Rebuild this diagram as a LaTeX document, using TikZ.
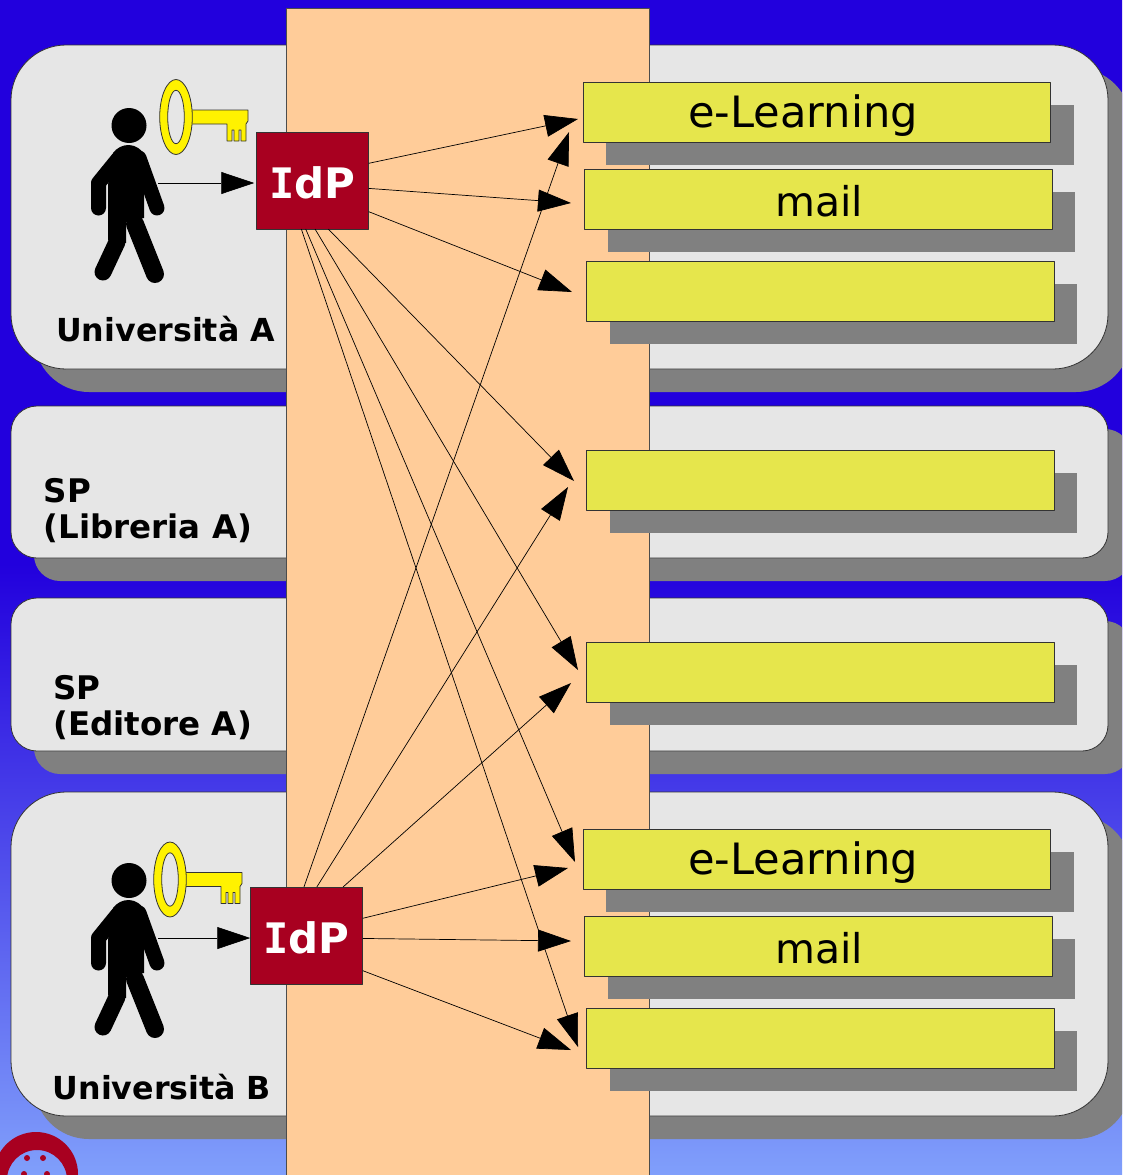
\documentclass[tikz,border=0pt]{standalone}
\usepackage{fontspec}
\setmainfont{DejaVu Sans}
\newfontfamily\idpfont{DejaVu Sans Mono}
\usepackage{tikz}
\usetikzlibrary{arrows.meta}
\definecolor{bgtop}{HTML}{2200DD}
\definecolor{bgend}{HTML}{809FFB}
\definecolor{panelgray}{HTML}{E6E6E6}
\definecolor{shadowgray}{HTML}{808080}
\definecolor{bandorange}{HTML}{FFCC99}
\definecolor{svcyellow}{HTML}{E6E64C}
\definecolor{idpred}{HTML}{A80020}
\pgfdeclareverticalshading{bgfade}{100bp}{color(0bp)=(bgend); color(25bp)=(bgend); color(51bp)=(bgtop); color(100bp)=(bgtop)}

\begin{document}
\begin{tikzpicture}[
        >=Stealth, line join=round,
        x=1pt, y=-1pt,
        panel/.style={draw=black!80, line width=0.8pt, fill=panelgray},
        svcbox/.style={draw=black!80, line width=0.8pt, fill=svcyellow, anchor=north west, minimum height=60pt, inner sep=0pt, outer sep=0pt},
        svcshadow/.style={fill=shadowgray},
        idpbox/.style={draw=black!80, line width=0.8pt, fill=idpred, minimum width=112.5pt, minimum height=97pt, inner sep=0pt, outer sep=0pt, text=white, font=\fontsize{42}{42}\selectfont\bfseries, text height=35pt, text depth=0pt},
        svclbl/.style={font=\fontsize{43.2}{43}\selectfont, inner sep=0pt, anchor=base},
        maillbl/.style={font=\fontsize{41}{43}\selectfont, inner sep=0pt, anchor=base},
        unilbl/.style={font=\fontsize{31.7}{36}\selectfont\bfseries, inner sep=0pt, anchor=west},
        splbl/.style={font=\fontsize{32.5}{36}\selectfont\bfseries, inner sep=0pt, align=left, anchor=west},
        flow/.style={-{Triangle[length=33pt,width=22pt]}, line width=0.7pt, black},
        person/.pic={
          \fill (129,125.5) circle (17.5);
          \fill (113,153) .. controls (120,143) and (138,140) .. (146,158) -- (144,195) -- (144,218) -- (126,222) -- (126,243) -- (108,240) -- (108,185) -- cycle;
          \draw[line width=15pt, line cap=round] (98.5,208) -- (98.5,183) -- (118,159);
          \draw[line width=15pt, line cap=round] (157,208) -- (139,158);
          \draw[line width=17pt, line cap=round] (103,272) -- (117,242);
          \draw[line width=18pt, line cap=round] (155,274) -- (135,224);
        },
        keypic/.pic={
          \fill[yellow, draw=black!80, line width=0.8pt] (190,110) -- (248,110) -- (248,121) -- (246,124) -- (246,141)
            -- (241,141) -- (241,130) -- (239,130) -- (239,141) -- (234,141) -- (234,130) -- (232,130) -- (232,141)
            -- (227,141) -- (227,124) -- (190,124) -- cycle;
          \fill[yellow, draw=black!80, line width=0.8pt, even odd rule] (176,117) ellipse (16.3 and 37.5)
            (176,117) ellipse (8.3 and 26.7);
        }
      ]
      \clip (0,0) rectangle (1122,1175);
      \shade[shading=bgfade] (0,0) rectangle (1122,1175);

      % ---- helpers ----
      \def\shdx{23}  % shadow x-offset
      \def\shdy{23}  % shadow y-offset
      \newcommand{\orgpanel}[3]{% top, bottom, radius
        \fill[shadowgray, rounded corners=#3pt] (11+\shdx,#1+\shdy) rectangle (1108+\shdx,#2+\shdy);
        \draw[panel, rounded corners=#3pt] (11,#1) rectangle (1108,#2);
      }
      \newcommand{\idptext}{{\idpfont I}\kern-1pt dP}

      %==================== PANELS ====================
      \orgpanel{45}{369}{55}
      \orgpanel{406}{558}{26}
      \orgpanel{598}{751}{26}
      \orgpanel{792}{1116}{55}

      % central band
      \draw[fill=bandorange, draw=black!70, line width=0.8pt] (286,8) rectangle (649,1185);

      %==================== SERVICES ====================
      \foreach \name/\x/\y/\w in {
          svcA/583/82/467.5,
          svcB/584.7/169/467.5,
          svcC/586.5/261/467.5,
          svcD/586.5/450/467.5,
          svcE/586.5/642/467.5,
          svcF/583/829/467.5,
          svcG/584.7/916/467.5,
          svcH/586.5/1008/467.5
        } {
          \fill[svcshadow] (\x+\shdx,\y+\shdy) rectangle ++(\w,60);
          \node[svcbox, minimum width=\w pt] (\name) at (\x,\y) {};
        }

      \node[svclbl] (elearnA) at (803,127) {e-Learning};
      \node[maillbl] (mailA) at (819,216) {mail};
      \node[svclbl] (elearnB) at (803,874) {e-Learning};
      \node[maillbl] (mailB) at (819,963) {mail};

      %==================== LEFT LABELS ====================
      \node[unilbl] (uniA) at (56,329) {Università A};
      \node[unilbl] (uniB) at (52.5,1087) {Università B};
      \node[splbl] (spLib) at (43.5,510.5) {SP\\(Libreria A)};
      \node[splbl] (spEd) at (53,707.5) {SP\\(Editore A)};

      %==================== PEOPLE, KEYS, IdP ====================
      \pic at (0,0) {person};
      \pic at (0,755) {person};
      \pic at (0,0) {keypic};
      \pic at (-6,762.5) {keypic};

      \node[idpbox] (idpA) at (312.5,180.5) {\idptext};
      \node[idpbox] (idpB) at (306.5,935.5) {\idptext};

      \coordinate (userA) at (158,183);
      \coordinate (userB) at (158,938);
      \draw[flow, shorten >=2pt] (userA) -- (idpA.west |- userA);
      \draw[flow] (userB) -- (idpB.west |- userB);

      %==================== FLOWS ====================
      \foreach \ang/\x/\y in {
          17.2/578/119,
          -8.6/571/203,
          -29.9/572/292,
          -72.3/574/481,
          -87/578/670,
          -98.8/575/862,
          -103.3/578/1047
        } {
          \coordinate (tip) at (\x,\y);
          \draw[flow] (idpA.\ang) -- (tip);
        }
      \foreach \ang/\x/\y in {
          93/569/132,
          78.9/568/487,
          53.8/571/683,
          17.2/568/868,
          -3.5/571/941,
          -32.1/571/1050
        } {
          \coordinate (tip) at (\x,\y);
          \draw[flow] (idpB.\ang) -- (tip);
        }

      %==================== LOGO ====================
      \fill[idpred, even odd rule] (36,1174) circle (42) (37,1180) circle (30);
      \foreach \x/\y in {27/1158, 43/1158, 24/1174, 47/1174} {
          \fill[idpred] (\x,\y) circle (3);
        }
    \end{tikzpicture}
\end{document}
